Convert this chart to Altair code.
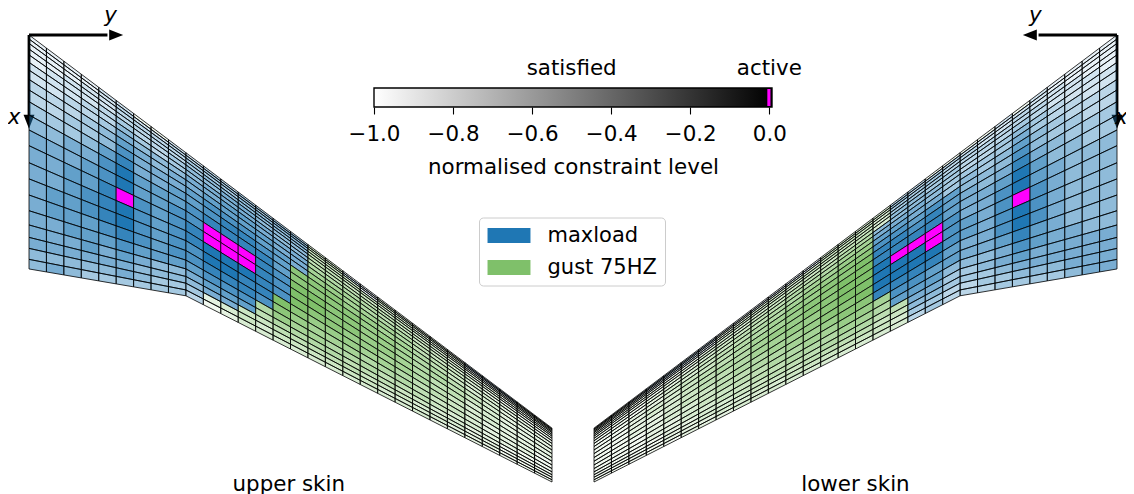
import altair as alt
import numpy as np
import pandas as pd

FONT = "DejaVu Sans"
FS = 21.4

# spanwise stations and chord geometry of the wing (same planform, both skins)
span_stations = list(range(31))
planform_span = [0, 9, 30]
leading_edge = [0.0, 6.75, 22.55]
trailing_edge = [13.42, 14.96, 25.64]
chord_fraction = [0, .017, .036, .06, .085, .117, .15, .19, .235, .285, .342,
                  .406, .473, .546, .615, .684, .751, .812, .865, .912, .959, 1]

# per-panel state: 0-9 = maxload at level 0.1-1.0, a-j = gust at level 0.1-1.0, M = active
upper_skin = [
    "000011aa11223333" + "cc00bbbba111aa",
    "0000121122333344" + "cc10cbbba111aa",
    "0001122223334444" + "ddc0ccbbb000aa",
    "0011122223444444" + "ddddcccbbaaaaa",
    "0111232234455444" + "eeddddccbbbaaa",
    "1112243234555544" + "eeeeeddccbbaaa",
    "1122354445566555" + "ffffeeddccbaaa",
    "2223465455666655" + "gggfffeddcbbaa",
    "2233475556777665" + "hhgggfeedccbba",
    "333468556678876i" + "iihhggfedccbbb",
    "445579666788886i" + "iiihhgffedcbbb",
    "5556796677MMM87j" + "jiihhgffedcbbb",
    "55668M7678MMM87j" + "jiihhgfeeccbbb",
    "556789767899987j" + "iihhggfedccbbb",
    "56678976779988ji" + "hhhggfeedcbbba",
    "56667876778887ih" + "gggfffeddcbbba",
    "5566676666777fhg" + "gfffeeedccbbaa",
    "5556565445666eff" + "ffeeeddccbbaaa",
    "555555444455ddee" + "eeedddcccbbaaa",
    "4444454333bcdcdd" + "ddddccccbbbaaa",
    "4543333332abcccc" + "cccccccbbbaaaa",
]
lower_skin = [
    "00001a1aaaa22c" + "ccc00000011110aa",
    "0000111112223c" + "ccc0000aa11110aa",
    "0001121122333c" + "dddccccbb01100aa",
    "0011222222333c" + "ddddccccb0000aaa",
    "0111232223344c" + "eeddddcccbaaaaaa",
    "11123432234444" + "ffeeeddcccbaaaaa",
    "11223533334555" + "ggfffeeddcbbaaaa",
    "22234643435566" + "hhggffeeddcbbaaa",
    "22334744467677" + "iihhgffeedccbaaa",
    "33345854568788" + "jiihhgffeddcbbaa",
    "33446965568888" + "jjiihggfeedccbaa",
    "4445697557MMM9" + "jjiihhgffedccbaa",
    "44457M7567M999" + "jjihhggfeedcbbaa",
    "44457975679999" + "jiihggffeddcbbaa",
    "44457975568888" + "iihggffeedccbaaa",
    "4445686556677g" + "hhggffeeddcbbaaa",
    "4455675444666f" + "ggfffeeddccbbaaa",
    "555556543355ee" + "fffeeeddccbbaaaa",
    "555555433344dd" + "eeeedddcccbbaaaa",
    "555444332233cd" + "dddddccccbbbaaaa",
    "554333322232cc" + "ccccccccbbbaaaaa",
]

colorbar_ticks = [-1.0, -0.8, -0.6, -0.4, -0.2, 0.0]
legend_names = ["maxload", "gust 75HZ"]
case_names = legend_names + ["active"]
case_colors = ["#1f77b4", "#7fc06a", "#ff00ff"]


def panel_rows(table):
    rows = []
    le = np.interp(span_stations, planform_span, leading_edge)
    te = np.interp(span_stations, planform_span, trailing_edge)
    for r, line in enumerate(table):
        assert len(line) == 30
        for c, ch in enumerate(line):
            if ch == "M":
                case, level = "active", 1.0
            elif ch.isdigit():
                case, level = "maxload", (int(ch) + 1) / 10
            else:
                case, level = "gust 75HZ", (ord(ch) - 96) / 10
            for s in (c, c + 1):
                chord = te[s] - le[s]
                rows.append({
                    "cell": f"{r}-{c}", "s": span_stations[s],
                    "c0": le[s] + chord_fraction[r] * chord,
                    "c1": le[s] + chord_fraction[r + 1] * chord,
                    "case": case, "level": level,
                })
    return pd.DataFrame(rows)


W, H = 1118, 486
y_scale = alt.Scale(domain=[0, 25.64], range=[27, 474], zero=False, nice=False)
upper_x = alt.Scale(domain=[0, 30], range=[21, 544], zero=False, nice=False)
lower_x = alt.Scale(domain=[0, 30], range=[1109, 586], zero=False, nice=False)
bar_x = alt.Scale(domain=[-1, 0.00683], range=[366, 764], zero=False, nice=False)


def wing(table, xs, head_path, title, title_s, x_label_s, show_legend):
    rules = alt.Chart(pd.DataFrame({
        "s0": [0, 0], "s1": [4.5, 0], "c0": [0, 0], "c1": [0, 4.7],
    })).mark_rule(color="black", strokeWidth=2.8).encode(
        x=alt.X("s0:Q", scale=xs, axis=None), x2="s1:Q",
        y=alt.Y("c0:Q", scale=y_scale, axis=None), y2="c1:Q",
    )
    head_y = alt.Chart(pd.DataFrame({"s": [5.0], "c": [0.0]})).mark_point(
        shape=head_path, size=196, filled=True, color="black", opacity=1
    ).encode(x=alt.X("s:Q", scale=xs, axis=None), y=alt.Y("c:Q", scale=y_scale, axis=None))
    head_x = alt.Chart(pd.DataFrame({"s": [0.0], "c": [4.98]})).mark_point(
        shape="M-0.78,-1L0.78,-1L0,1Z", size=196, filled=True, color="black", opacity=1
    ).encode(x=alt.X("s:Q", scale=xs, axis=None), y=alt.Y("c:Q", scale=y_scale, axis=None))
    legend = alt.Legend(
        orient="none", legendX=471, legendY=209.5, title=None, values=legend_names,
        fillColor="white", strokeColor="#cccccc", cornerRadius=4, padding=7.5,
        symbolType="M-2.26,-0.79H2.26V0.79H-2.26Z", symbolSize=361, symbolOpacity=1,
        symbolOffset=12, symbolStrokeWidth=0, labelFont=FONT, labelFontSize=21,
        labelColor="black", labelOffset=28, rowPadding=10,
    ) if show_legend else None
    mesh = alt.Chart(panel_rows(table)).mark_area(
        stroke="black", strokeWidth=0.8, interpolate="linear"
    ).encode(
        x=alt.X("s:Q", scale=xs, axis=None),
        y=alt.Y("c0:Q", scale=y_scale, axis=None), y2="c1:Q",
        detail="cell:N",
        fill=alt.Fill("case:N", scale=alt.Scale(domain=case_names, range=case_colors), legend=legend),
        fillOpacity=alt.FillOpacity("level:Q", scale=None),
    )
    axis_names = alt.Chart(pd.DataFrame({
        "s": [4.68, x_label_s], "c": [-1.08, 4.76], "t": ["y", "x"],
    })).mark_text(font=FONT, fontSize=FS, fontStyle="italic", color="black").encode(
        x=alt.X("s:Q", scale=xs, axis=None), y=alt.Y("c:Q", scale=y_scale, axis=None), text="t:N",
    )
    skin_name = alt.Chart(pd.DataFrame({"s": [title_s], "c": [25.8], "t": [title]})).mark_text(
        font=FONT, fontSize=FS, color="black"
    ).encode(
        x=alt.X("s:Q", scale=xs, axis=None), y=alt.Y("c:Q", scale=y_scale, axis=None), text="t:N",
    )
    return [rules, head_y, head_x, mesh, axis_names, skin_name]


bar_frame = alt.Chart(pd.DataFrame({"lo": [-1.0], "hi": [0.00683]})).mark_rect(
    fill=alt.Gradient(gradient="linear", x1=0, x2=1, y1=0, y2=0, stops=[
        alt.GradientStop(color="#ffffff", offset=0), alt.GradientStop(color="#000000", offset=1)]),
    stroke="black", strokeWidth=1.4,
).encode(
    x=alt.X("lo:Q", scale=bar_x, axis=alt.Axis(
        orient="bottom", offset=99 - H, values=colorbar_ticks, format=".1f", grid=False,
        domain=False, tickSize=7, tickWidth=1.1, tickColor="black", labelColor="black",
        labelFont=FONT, labelFontSize=FS, labelPadding=9, labelFlush=False, labelOverlap=False,
        title="normalised constraint level",
        titleFont=FONT, titleFontSize=FS, titleFontWeight="normal", titleColor="black",
        titlePadding=12)),
    x2="hi:Q", y=alt.value(80), y2=alt.value(99),
)
bar_active = alt.Chart(pd.DataFrame({"lo": [-0.005], "hi": [0.003]})).mark_rect(color="#ff00ff").encode(
    x=alt.X("lo:Q", scale=bar_x, axis=None), x2="hi:Q", y=alt.value(81), y2=alt.value(98),
)
bar_text = alt.Chart(pd.DataFrame({"v": [-0.5, 0.0], "t": ["satisfied", "active"]})).mark_text(
    font=FONT, fontSize=FS, color="black"
).encode(x=alt.X("v:Q", scale=bar_x, axis=None), y=alt.value(61), text="t:N")

layers = (
    wing(upper_skin, upper_x, "M-1,-0.78L1,0L-1,0.78Z", "upper skin", 14.9, -0.86, True)
    + wing(lower_skin, lower_x, "M1,-0.78L-1,0L1,0.78Z", "lower skin", 15.0, -0.25, False)
    + [bar_frame, bar_active, bar_text]
)
chart = alt.layer(*layers).resolve_scale(x="independent").properties(
    width=W, height=H, padding=0, autosize=alt.AutoSizeParams(type="none"),
).configure_view(stroke=None)

chart.save("out.html", embed_options={"renderer": "svg", "actions": False})
